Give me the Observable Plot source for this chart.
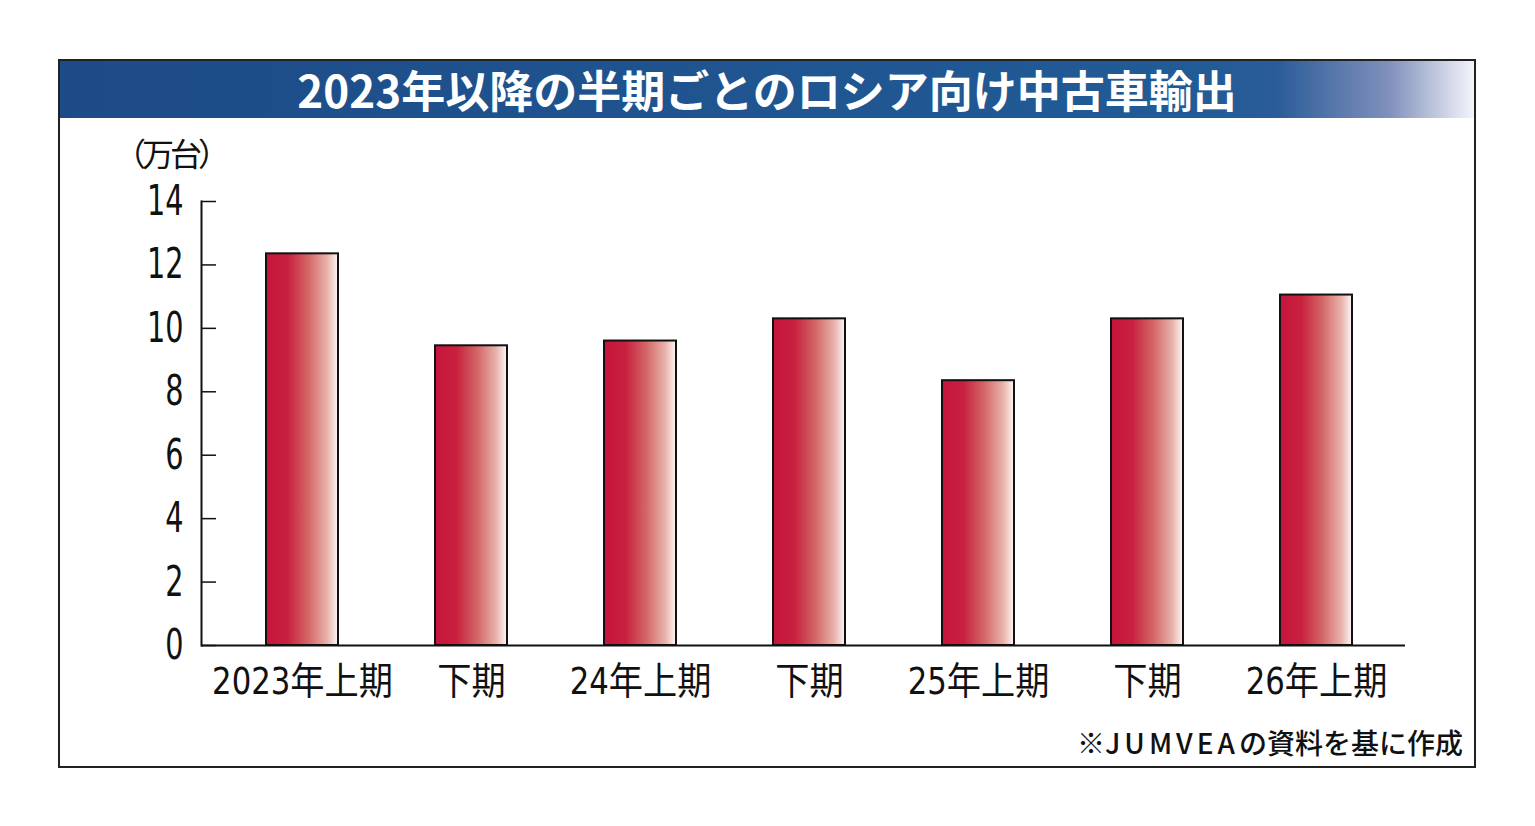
<!DOCTYPE html>
<html>
<head>
<meta charset="utf-8">
<script src="https://cdn.jsdelivr.net/npm/d3@7"></script>
<script src="https://cdn.jsdelivr.net/npm/@observablehq/plot@0.6"></script>
<style>
  html, body { margin: 0; padding: 0; background: #fff; }
  body { width: 1535px; height: 826px; position: relative; overflow: hidden; }
  #frame { position: absolute; left: 58px; top: 59px; width: 1414px; height: 705px; border: 2px solid #222; }
  #title { position: absolute; left: 60px; top: 61px; width: 1414px; height: 57px;
    background: linear-gradient(to right, #1d4b87 0%, #215b96 80%, #2a5c98 86%, #8090bc 94%, #f4f4fa 100%);
    color: #fff; font-family: "Noto Sans CJK JP", sans-serif; font-weight: 700; font-size: 44px;
    text-align: center; line-height: 57px; letter-spacing: 0px; }
  #unit { position: absolute; left: 114px; top: 132px; line-height: 40px; font-family: "Noto Sans CJK JP", sans-serif; font-size: 32px; letter-spacing: -4px; color: #111; }
  #chart { position: absolute; left: 0; top: 118px; }
  #caption { position: absolute; right: 72px; top: 722px; font-family: "Noto Sans CJK JP", sans-serif; font-weight: 500; font-size: 28px; color: #111; }
  #caption .lat { letter-spacing: 4px; }
</style>
</head>
<body>
<div id="frame"></div>
<div id="title"></div>
<div id="unit"></div>
<div id="chart"></div>
<div id="caption"><span id="capA"></span><span class="lat" id="capB"></span><span id="capC"></span></div>
<script>
const titleText = "2023年以降の半期ごとのロシア向け中古車輸出";
const unitText = "（万台）";
const captionParts = ["※", "JUMVEA", "の資料を基に作成"];
const periods = ["2023年上期", "下期", "24年上期", "下期", "25年上期", "下期", "26年上期"];
const values = [12.35, 9.45, 9.6, 10.3, 8.35, 10.3, 11.05];
const yTicks = [0, 2, 4, 6, 8, 10, 12, 14];

document.getElementById("title").textContent = titleText;
document.getElementById("unit").textContent = unitText;
document.getElementById("capA").textContent = captionParts[0];
document.getElementById("capB").textContent = captionParts[1];
document.getElementById("capC").textContent = captionParts[2];

const data = periods.map((p, i) => ({i, p, v: values[i]}));

const gradientDefs = () => {
  const defs = d3.create("svg:defs");
  const g = defs.append("linearGradient").attr("id", "barGrad").attr("x1", "0").attr("x2", "1").attr("y1", "0").attr("y2", "0");
  [[0, "#c6143b"], [0.3, "#c8213f"], [0.6, "#d46a69"], [0.85, "#e9b2ac"], [1, "#fdf6f5"]].forEach(([o, c]) =>
    g.append("stop").attr("offset", o).attr("stop-color", c));
  return defs.node();
};

const chart = Plot.plot({
  width: 1535,
  height: 600,
  marginLeft: 201,
  marginRight: 130,
  marginTop: 83,
  marginBottom: 73,
  style: {fontFamily: "'Liberation Sans Narrow', 'DejaVu Sans', 'Noto Sans CJK JP', sans-serif", fontStretch: "condensed", fontSize: "38px", color: "#111", background: "transparent", overflow: "visible"},
  x: {domain: d3.range(periods.length), paddingInner: 0.576, paddingOuter: 0.33, align: 0.55, label: null},
  y: {domain: [0, 14], label: null},
  marks: [
    gradientDefs,
    Plot.barY(data, {x: "i", y: "v", fill: "url(#barGrad)", stroke: "#111", strokeWidth: 2}),
    Plot.axisY(yTicks, {tickSize: 0, tickPadding: 18, fontSize: 42}),
    Plot.axisY(yTicks, {tickSize: -15, text: null, strokeWidth: 1.5}),
    Plot.axisX({tickSize: 0, tickPadding: 22, tickFormat: i => periods[i], fontSize: 38}),
    Plot.frame({anchor: "left", strokeWidth: 2}),
    Plot.ruleY([0], {strokeWidth: 2})
  ]
});
// condense the label glyphs horizontally (font style), keeping Plot's positions
function condense(sel, s) {
  d3.select(chart).selectAll(sel).each(function() {
    const t = this.getAttribute("transform") || "";
    const x = +this.getAttribute("x") || 0, y = +this.getAttribute("y") || 0;
    this.setAttribute("transform", `${t} translate(${x},${y}) scale(${s},1) translate(${-x},${-y})`);
  });
}
condense("g[aria-label='y-axis tick label'] text", 0.76);
condense("g[aria-label='x-axis tick label'] text", 0.9);
document.getElementById("chart").appendChild(chart);
</script>
</body>
</html>
